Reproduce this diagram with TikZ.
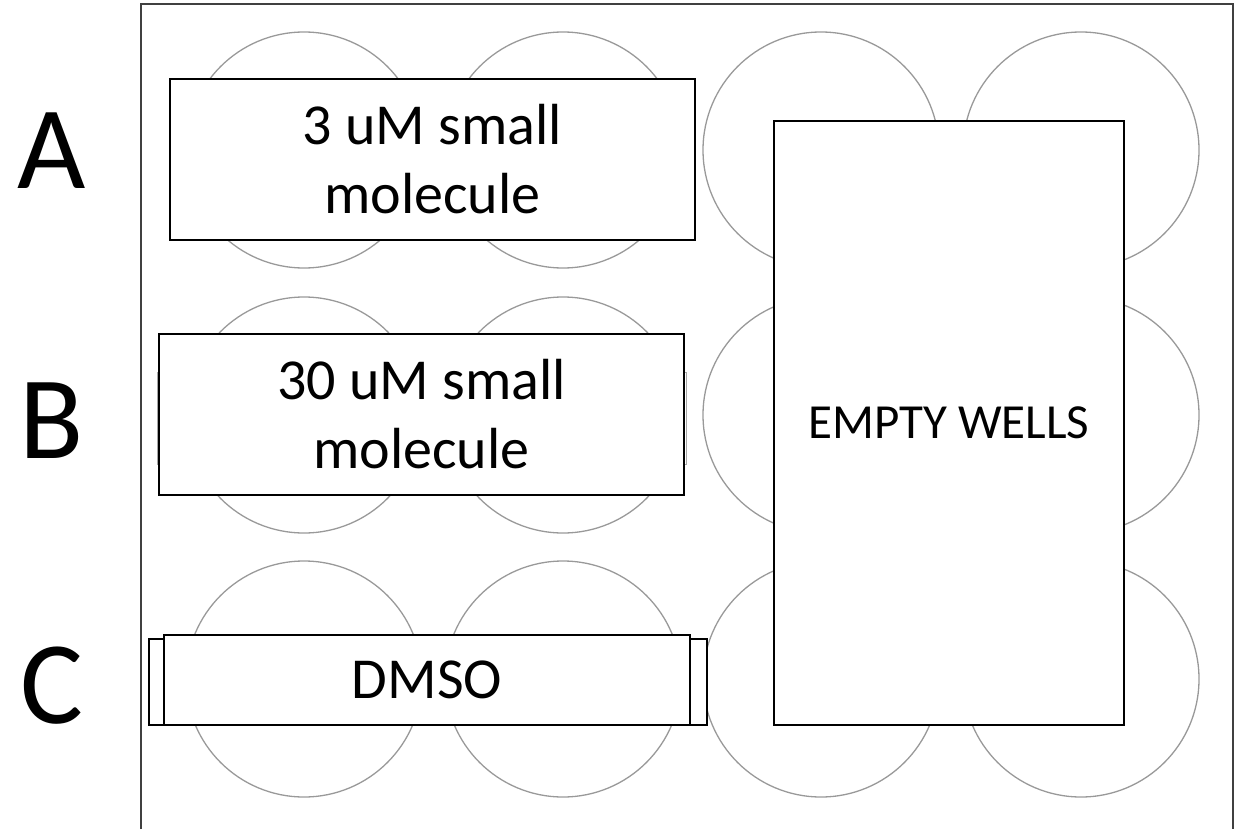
\documentclass[tikz,border=0pt]{standalone}
\usepackage{fontspec}
\setmainfont{Carlito}
\newcommand{\bigtxt}{\fontsize{58}{69}\selectfont}

\begin{document}
\begin{tikzpicture}[x=1pt,y=-1pt,
    well/.style={circle,draw=gray!80,line width=1.3pt,minimum size=236pt,inner sep=0pt},
    cond/.style={rectangle,draw=black,line width=2pt,fill=white,inner sep=0pt,align=center,font=\bigtxt},
    rowname/.style={font=\fontsize{118}{118}\selectfont,inner sep=0pt}]
  \useasboundingbox (0,0) rectangle (1238,829);
  % plate outline, open at the bottom
  \draw[line width=1.6pt,draw=black!75] (141,829) |- (1233,4) -- (1233,829);
  % wells
  \foreach \c/\x in {1/304,2/563,3/821,4/1081}
    \foreach \r/\y in {1/150,2/415,3/679}
      \node[well] (w\r\c) at (\x,\y) {};
  % row names
  \node[rowname] (ra) at (52,151) {A};
  \node[rowname] (rb) at (52,421) {B};
  \node[rowname] (rc) at (52,686) {C};
  % treatments
  \node[cond,minimum width=525pt,minimum height=161pt] (low) at (432.5,159.5) {3 uM small\\molecule};
  \node[rectangle,draw=gray!70,line width=1pt,minimum width=529pt,minimum height=92pt] (highb) at (421.5,418) {};
  \node[cond,minimum width=525pt,minimum height=161pt] (high) at (421.5,414.5) {30 uM small\\molecule};
  \node[cond,minimum width=558pt,minimum height=86pt] (dmsob) at (428,682) {};
  \node[cond,minimum width=526pt,minimum height=90pt] (dmso) at (427,680) {DMSO};
  \node[cond,minimum width=350pt,minimum height=604pt,font=\fontsize{49}{58}\selectfont] (empty) at (949,423) {EMPTY WELLS};
\end{tikzpicture}
\end{document}
